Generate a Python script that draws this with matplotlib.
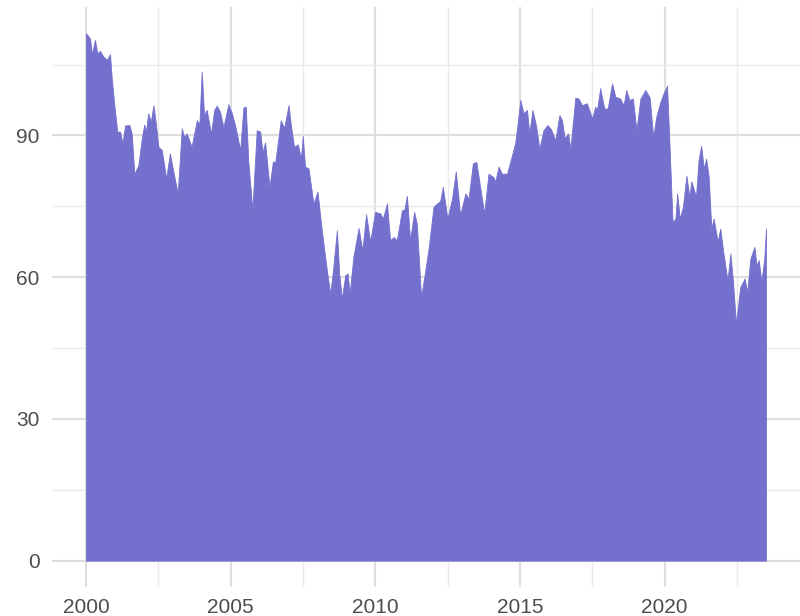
import matplotlib
matplotlib.use("Agg")
import matplotlib.pyplot as plt
from matplotlib.ticker import FixedLocator

# Time (decimal years) and value
years = [
    2000.00, 2000.14, 2000.20, 2000.31, 2000.39, 2000.48, 2000.60, 2000.72, 2000.83, 2000.89,
    2000.98, 2001.08, 2001.18, 2001.26, 2001.35, 2001.50, 2001.58, 2001.67, 2001.81, 2001.93,
    2002.01, 2002.07, 2002.15, 2002.24, 2002.33, 2002.42, 2002.50, 2002.62, 2002.77, 2002.90,
    2003.02, 2003.17, 2003.31, 2003.39, 2003.48, 2003.65, 2003.83, 2003.92, 2004.00, 2004.08,
    2004.17, 2004.32, 2004.43, 2004.52, 2004.63, 2004.75, 2004.92, 2005.04, 2005.15, 2005.33,
    2005.44, 2005.52, 2005.61, 2005.75, 2005.90, 2006.02, 2006.10, 2006.19, 2006.34, 2006.46,
    2006.54, 2006.73, 2006.85, 2007.00, 2007.08, 2007.19, 2007.32, 2007.43, 2007.49, 2007.57,
    2007.69, 2007.86, 2008.00, 2008.15, 2008.30, 2008.44, 2008.53, 2008.67, 2008.75, 2008.84,
    2008.96, 2009.04, 2009.11, 2009.24, 2009.42, 2009.55, 2009.68, 2009.82, 2009.99, 2010.17,
    2010.26, 2010.40, 2010.51, 2010.63, 2010.74, 2010.92, 2011.00, 2011.09, 2011.20, 2011.34,
    2011.43, 2011.58, 2011.70, 2011.84, 2012.01, 2012.13, 2012.24, 2012.33, 2012.49, 2012.65,
    2012.78, 2012.93, 2013.11, 2013.22, 2013.37, 2013.49, 2013.76, 2013.91, 2014.08, 2014.14,
    2014.26, 2014.37, 2014.55, 2014.66, 2014.83, 2014.91, 2015.01, 2015.12, 2015.24, 2015.32,
    2015.43, 2015.56, 2015.67, 2015.81, 2015.95, 2016.07, 2016.22, 2016.36, 2016.45, 2016.54,
    2016.66, 2016.74, 2016.91, 2017.02, 2017.14, 2017.31, 2017.49, 2017.60, 2017.66, 2017.77,
    2017.91, 2018.03, 2018.18, 2018.29, 2018.46, 2018.58, 2018.67, 2018.78, 2018.90, 2019.02,
    2019.16, 2019.33, 2019.48, 2019.60, 2019.71, 2019.85, 2019.96, 2020.08, 2020.17, 2020.27,
    2020.37, 2020.43, 2020.52, 2020.63, 2020.75, 2020.85, 2020.92, 2021.08, 2021.17, 2021.26,
    2021.35, 2021.43, 2021.52, 2021.61, 2021.69, 2021.83, 2021.92, 2022.03, 2022.17, 2022.27,
    2022.36, 2022.46, 2022.61, 2022.76, 2022.85, 2022.96, 2023.10, 2023.17, 2023.25, 2023.34,
    2023.44, 2023.50,
]
values = [
    111.6, 110.5, 107.2, 110.2, 107.4, 107.9, 106.7, 106.0, 107.2, 102.1,
    96.4, 90.8, 90.8, 88.3, 92.1, 92.2, 90.4, 81.9, 83.7, 89.4,
    92.3, 90.8, 94.7, 92.9, 96.4, 92.2, 87.6, 86.9, 80.9, 86.2,
    82.3, 77.7, 91.5, 89.7, 90.4, 87.6, 93.2, 92.5, 103.5, 94.3,
    95.4, 90.4, 95.4, 96.3, 95.0, 91.8, 96.6, 94.7, 92.2, 86.9,
    95.9, 96.1, 84.4, 74.2, 91.1, 90.8, 86.5, 88.5, 79.1, 84.5,
    84.3, 93.2, 91.6, 96.4, 92.2, 87.6, 88.1, 85.1, 89.9, 83.4,
    83.0, 75.6, 78.1, 69.9, 62.5, 56.5, 61.1, 69.9, 60.8, 55.5,
    60.4, 60.8, 56.5, 64.3, 70.4, 65.7, 73.3, 67.5, 73.8, 73.5,
    72.4, 75.6, 67.8, 68.5, 67.8, 74.2, 74.2, 77.2, 67.8, 73.8,
    71.4, 55.8, 60.4, 66.1, 74.9, 75.6, 76.1, 79.1, 72.4, 76.6,
    82.4, 73.1, 77.7, 76.6, 84.1, 84.4, 73.5, 81.9, 81.2, 80.2,
    83.4, 81.9, 81.9, 84.4, 88.3, 92.2, 97.5, 94.7, 95.4, 90.4,
    95.4, 91.8, 87.2, 91.1, 92.2, 91.3, 89.0, 94.3, 93.2, 89.4,
    90.4, 87.2, 98.0, 97.8, 96.4, 96.8, 93.6, 96.1, 95.4, 100.0,
    95.7, 95.7, 101.0, 98.2, 97.8, 96.4, 99.6, 97.5, 97.8, 91.1,
    97.8, 99.6, 98.0, 89.7, 94.0, 97.1, 98.9, 100.5, 87.2, 71.7,
    72.4, 77.7, 72.4, 74.9, 81.5, 77.0, 80.3, 77.0, 84.8, 87.8,
    83.0, 85.1, 81.2, 70.3, 72.4, 67.5, 70.3, 65.0, 59.3, 65.0,
    59.0, 50.2, 57.9, 59.7, 56.9, 63.9, 66.4, 62.5, 63.6, 59.0,
    63.9, 70.3,
]

x_major = [2000, 2005, 2010, 2015, 2020]
x_minor = [2002.5, 2007.5, 2012.5, 2017.5, 2022.5]
y_major = [0, 30, 60, 90]
y_minor = [15, 45, 75, 105]

fill_color = "#7470CE"
grid_major = "#DEDEDE"
grid_minor = "#EAEAEA"
text_color = "#4D4D4D"

plt.rcParams["font.family"] = ["Liberation Sans", "DejaVu Sans"]

fig = plt.figure(figsize=(8.0, 6.16), dpi=100)
ax = fig.add_axes([52 / 800, 29 / 616, 748 / 800, 580 / 616])

ax.fill_between(years, 0, values, color=fill_color, linewidth=0.6, edgecolor=fill_color, zorder=3)

span_x = years[-1] - years[0]
ax.set_xlim(years[0] - 0.05 * span_x, years[-1] + 0.05 * span_x)
ymax = max(values)
ax.set_ylim(-0.05 * ymax, ymax * 1.05)

ax.xaxis.set_major_locator(FixedLocator(x_major))
ax.xaxis.set_minor_locator(FixedLocator(x_minor))
ax.yaxis.set_major_locator(FixedLocator(y_major))
ax.yaxis.set_minor_locator(FixedLocator(y_minor))
ax.set_xticklabels([str(v) for v in x_major])
ax.set_yticklabels([str(v) for v in y_major])

ax.grid(which="major", color=grid_major, linewidth=1.5, zorder=0)
ax.grid(which="minor", color=grid_minor, linewidth=1.0, zorder=0)
ax.set_axisbelow(True)

for s in ax.spines.values():
    s.set_visible(False)

ax.tick_params(which="both", length=0)
ax.tick_params(axis="x", pad=8, labelsize=15, labelcolor=text_color)
ax.tick_params(axis="y", pad=9, labelsize=15, labelcolor=text_color)

fig.savefig("out.png", dpi=100)
